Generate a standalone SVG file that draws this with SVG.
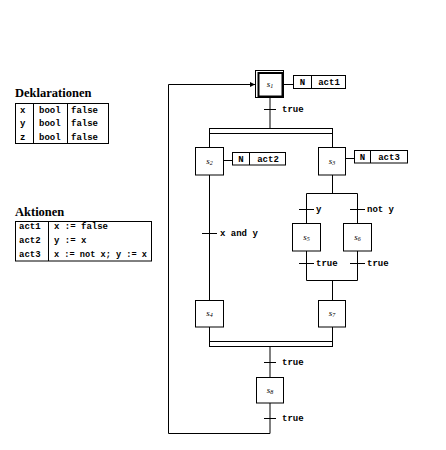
<svg xmlns="http://www.w3.org/2000/svg" width="446" height="450" viewBox="0 0 446 450">
<style>
  .ln{stroke:#000;stroke-width:1;fill:none}
  .box{stroke:#000;stroke-width:1;fill:#fff}
  .tt{font-family:"Liberation Mono","DejaVu Sans Mono",monospace;font-weight:bold;font-size:9px;fill:#000}
  .ttl{font-family:"Liberation Serif","DejaVu Serif",serif;font-weight:bold;font-size:12.5px;fill:#000}
  .st{font-family:"Liberation Serif","DejaVu Serif",serif;font-style:italic;font-size:9px;fill:#000}
  .sub{font-size:6px}
</style>
<defs>
  <marker id="arr" markerWidth="6" markerHeight="6" refX="5" refY="3" orient="auto" markerUnits="userSpaceOnUse">
    <path d="M0,0.5 L5,3 L0,5.5 Z" fill="#000"/>
  </marker>
</defs>
<rect width="446" height="450" fill="#fff"/>

<g id="declarations">
  <text class="ttl" x="15" y="97">Deklarationen</text>
  <rect class="box" x="15.5" y="103.5" width="93" height="40"/>
  <line class="ln" x1="33.5" y1="103.5" x2="33.5" y2="143.5"/>
  <line class="ln" x1="67.5" y1="103.5" x2="67.5" y2="143.5"/>
  <text class="tt" x="20" y="113">x</text><text class="tt" x="39" y="113">bool</text><text class="tt" x="71" y="113">false</text>
  <text class="tt" x="20" y="126">y</text><text class="tt" x="39" y="126">bool</text><text class="tt" x="71" y="126">false</text>
  <text class="tt" x="20" y="140">z</text><text class="tt" x="39" y="140">bool</text><text class="tt" x="71" y="140">false</text>
</g>

<g id="actions">
  <text class="ttl" x="15" y="216">Aktionen</text>
  <rect class="box" x="15.5" y="221.5" width="136" height="39.5"/>
  <line class="ln" x1="48.5" y1="221.5" x2="48.5" y2="261"/>
  <text class="tt" x="19" y="229">act1</text><text class="tt" x="54" y="229">x := false</text>
  <text class="tt" x="19" y="243">act2</text><text class="tt" x="54" y="243">y := x</text>
  <text class="tt" x="19" y="257">act3</text><text class="tt" x="54" y="257" textLength="93" lengthAdjust="spacingAndGlyphs">x := not x; y := x</text>
</g>

<g id="connectors">
  <line class="ln" x1="270" y1="97.5" x2="270" y2="128.5"/>
  <line class="ln" x1="264" y1="109.5" x2="276" y2="109.5"/>
  <rect class="ln" x="209.5" y="128.5" width="123" height="5"/>
  <line class="ln" x1="209.5" y1="133.5" x2="209.5" y2="147"/>
  <line class="ln" x1="332.5" y1="133.5" x2="332.5" y2="147"/>
  <line class="ln" x1="209.5" y1="175" x2="209.5" y2="300"/>
  <line class="ln" x1="202" y1="233.5" x2="217" y2="233.5"/>
  <line class="ln" x1="332.5" y1="175" x2="332.5" y2="193.5"/>
  <line class="ln" x1="306.5" y1="193.5" x2="357.5" y2="193.5"/>
  <line class="ln" x1="306.5" y1="193.5" x2="306.5" y2="223"/>
  <line class="ln" x1="357.5" y1="193.5" x2="357.5" y2="223"/>
  <line class="ln" x1="299" y1="209.5" x2="314" y2="209.5"/>
  <line class="ln" x1="350" y1="209.5" x2="365" y2="209.5"/>
  <line class="ln" x1="306.5" y1="251" x2="306.5" y2="280.5"/>
  <line class="ln" x1="357.5" y1="251" x2="357.5" y2="280.5"/>
  <line class="ln" x1="299" y1="263.5" x2="314" y2="263.5"/>
  <line class="ln" x1="350" y1="263.5" x2="365" y2="263.5"/>
  <line class="ln" x1="306.5" y1="280.5" x2="357.5" y2="280.5"/>
  <line class="ln" x1="332.5" y1="280.5" x2="332.5" y2="300"/>
  <line class="ln" x1="209.5" y1="327" x2="209.5" y2="341.5"/>
  <line class="ln" x1="332.5" y1="327" x2="332.5" y2="341.5"/>
  <rect class="ln" x="209.5" y="341.5" width="123" height="5"/>
  <line class="ln" x1="270" y1="346.5" x2="270" y2="377"/>
  <line class="ln" x1="264" y1="362.5" x2="276" y2="362.5"/>
  <line class="ln" x1="264" y1="418.5" x2="276" y2="418.5"/>
  <path class="ln" d="M270,403 V433.5 H168.5 V84.5 H255" marker-end="url(#arr)"/>
  <line class="ln" x1="283.5" y1="84.5" x2="293" y2="84.5"/>
  <line class="ln" x1="223" y1="160.5" x2="232" y2="160.5"/>
  <line class="ln" x1="346" y1="158.5" x2="354" y2="158.5"/>
  <text class="tt" x="282" y="112">true</text>
  <text class="tt" x="220" y="236">x and y</text>
  <text class="tt" x="316" y="212">y</text>
  <text class="tt" x="367" y="212">not y</text>
  <text class="tt" x="316" y="266">true</text>
  <text class="tt" x="367" y="266">true</text>
  <text class="tt" x="282" y="365">true</text>
  <text class="tt" x="282" y="421">true</text>
</g>

<g id="s1">
  <rect class="box" x="255.5" y="70.5" width="28" height="27"/>
  <rect x="258.5" y="73" width="24" height="23.5" fill="none" stroke="#000" stroke-width="2"/>
  <text class="st" x="270" y="87" text-anchor="middle">s<tspan class="sub" dy="1">1</tspan></text>
</g>
<g id="act1">
  <rect class="box" x="293.5" y="75.5" width="52" height="13"/>
  <line class="ln" x1="311.5" y1="75.5" x2="311.5" y2="88.5"/>
  <text class="tt" x="302.5" y="85" text-anchor="middle">N</text>
  <text class="tt" x="329" y="85" text-anchor="middle">act1</text>
</g>
<g id="s2">
  <rect class="box" x="195.5" y="147.5" width="28" height="27.5"/>
  <text class="st" x="209.5" y="164" text-anchor="middle">s<tspan class="sub" dy="1">2</tspan></text>
</g>
<g id="act2">
  <rect class="box" x="232.5" y="152.5" width="53" height="12.5"/>
  <line class="ln" x1="249.5" y1="152.5" x2="249.5" y2="165"/>
  <text class="tt" x="241" y="162" text-anchor="middle">N</text>
  <text class="tt" x="268" y="162" text-anchor="middle">act2</text>
</g>
<g id="s3">
  <rect class="box" x="318.5" y="147.5" width="27" height="27.5"/>
  <text class="st" x="332" y="164" text-anchor="middle">s<tspan class="sub" dy="1">3</tspan></text>
</g>
<g id="act3">
  <rect class="box" x="354.5" y="150.5" width="53" height="12.5"/>
  <line class="ln" x1="370.5" y1="150.5" x2="370.5" y2="163"/>
  <text class="tt" x="362.5" y="160" text-anchor="middle">N</text>
  <text class="tt" x="389" y="160" text-anchor="middle">act3</text>
</g>
<g id="s5">
  <rect class="box" x="292.5" y="223.5" width="28" height="27.5"/>
  <text class="st" x="306.5" y="240" text-anchor="middle">s<tspan class="sub" dy="1">5</tspan></text>
</g>
<g id="s6">
  <rect class="box" x="343.5" y="223.5" width="28" height="27.5"/>
  <text class="st" x="357.5" y="240" text-anchor="middle">s<tspan class="sub" dy="1">6</tspan></text>
</g>
<g id="s4">
  <rect class="box" x="195.5" y="300.5" width="28" height="26.5"/>
  <text class="st" x="209.5" y="316" text-anchor="middle">s<tspan class="sub" dy="1">4</tspan></text>
</g>
<g id="s7">
  <rect class="box" x="318.5" y="300.5" width="27" height="26.5"/>
  <text class="st" x="332" y="316" text-anchor="middle">s<tspan class="sub" dy="1">7</tspan></text>
</g>
<g id="s8">
  <rect class="box" x="256.5" y="377.5" width="27" height="25.5"/>
  <text class="st" x="270" y="393" text-anchor="middle">s<tspan class="sub" dy="1">8</tspan></text>
</g>
</svg>
